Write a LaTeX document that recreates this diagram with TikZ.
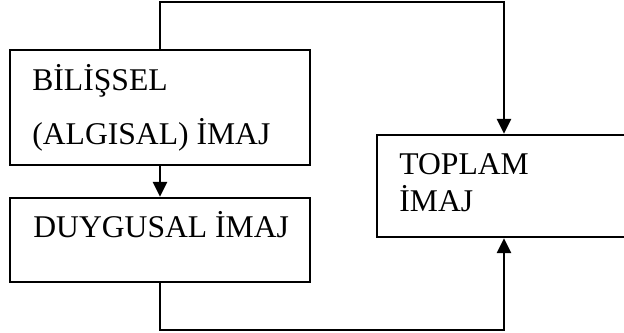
\documentclass[tikz,border=0pt]{standalone}
\usepackage{fontspec}
\setmainfont{Liberation Serif}
\usetikzlibrary{arrows.meta}
\begin{document}
\begin{tikzpicture}[x=0.02cm, y=-0.02cm,
    kutu/.style={draw, line width=0.045cm, inner sep=0pt},
    yazi/.style={anchor=base west, inner sep=0pt, font=\fontsize{18}{21}\selectfont},
    ok/.style={line width=0.055cm, -{Triangle[length=0.3cm, width=0.28cm]}}]

    \clip (0,0) rectangle (624,333);
    % \draw [help lines, step=10] (0,0) grid (624,333);

    \node [kutu, minimum width=6cm, minimum height=2.3cm ] (bil)    at (160,107.5) {};
    \node [kutu, minimum width=6cm, minimum height=1.68cm] (duy)    at (160,240)   {};
    \node [kutu, minimum width=6.46cm, minimum height=2.04cm] (toplam) at (538.5,186) {};

    \node [yazi] (bil1) at (32, 91)  {BİLİŞSEL};
    \node [yazi] (bil2) at (32,145)  {(ALGISAL) İMAJ};
    \node [yazi] (duy1) at (33,238)  {DUYGUSAL İMAJ};
    \node [yazi] (top1) at (399,175) {TOPLAM};
    \node [yazi] (top2) at (399,212) {İMAJ};

    \coordinate (ust) at (504,  2);
    \coordinate (alt) at (504,330);

    \draw [ok] (bil.south) -- (duy.north);
    \draw [ok] (bil.north) |- (ust) -- (ust |- toplam.north);
    \draw [ok] (duy.south) |- (alt) -- (alt |- toplam.south);

\end{tikzpicture}
\end{document}
